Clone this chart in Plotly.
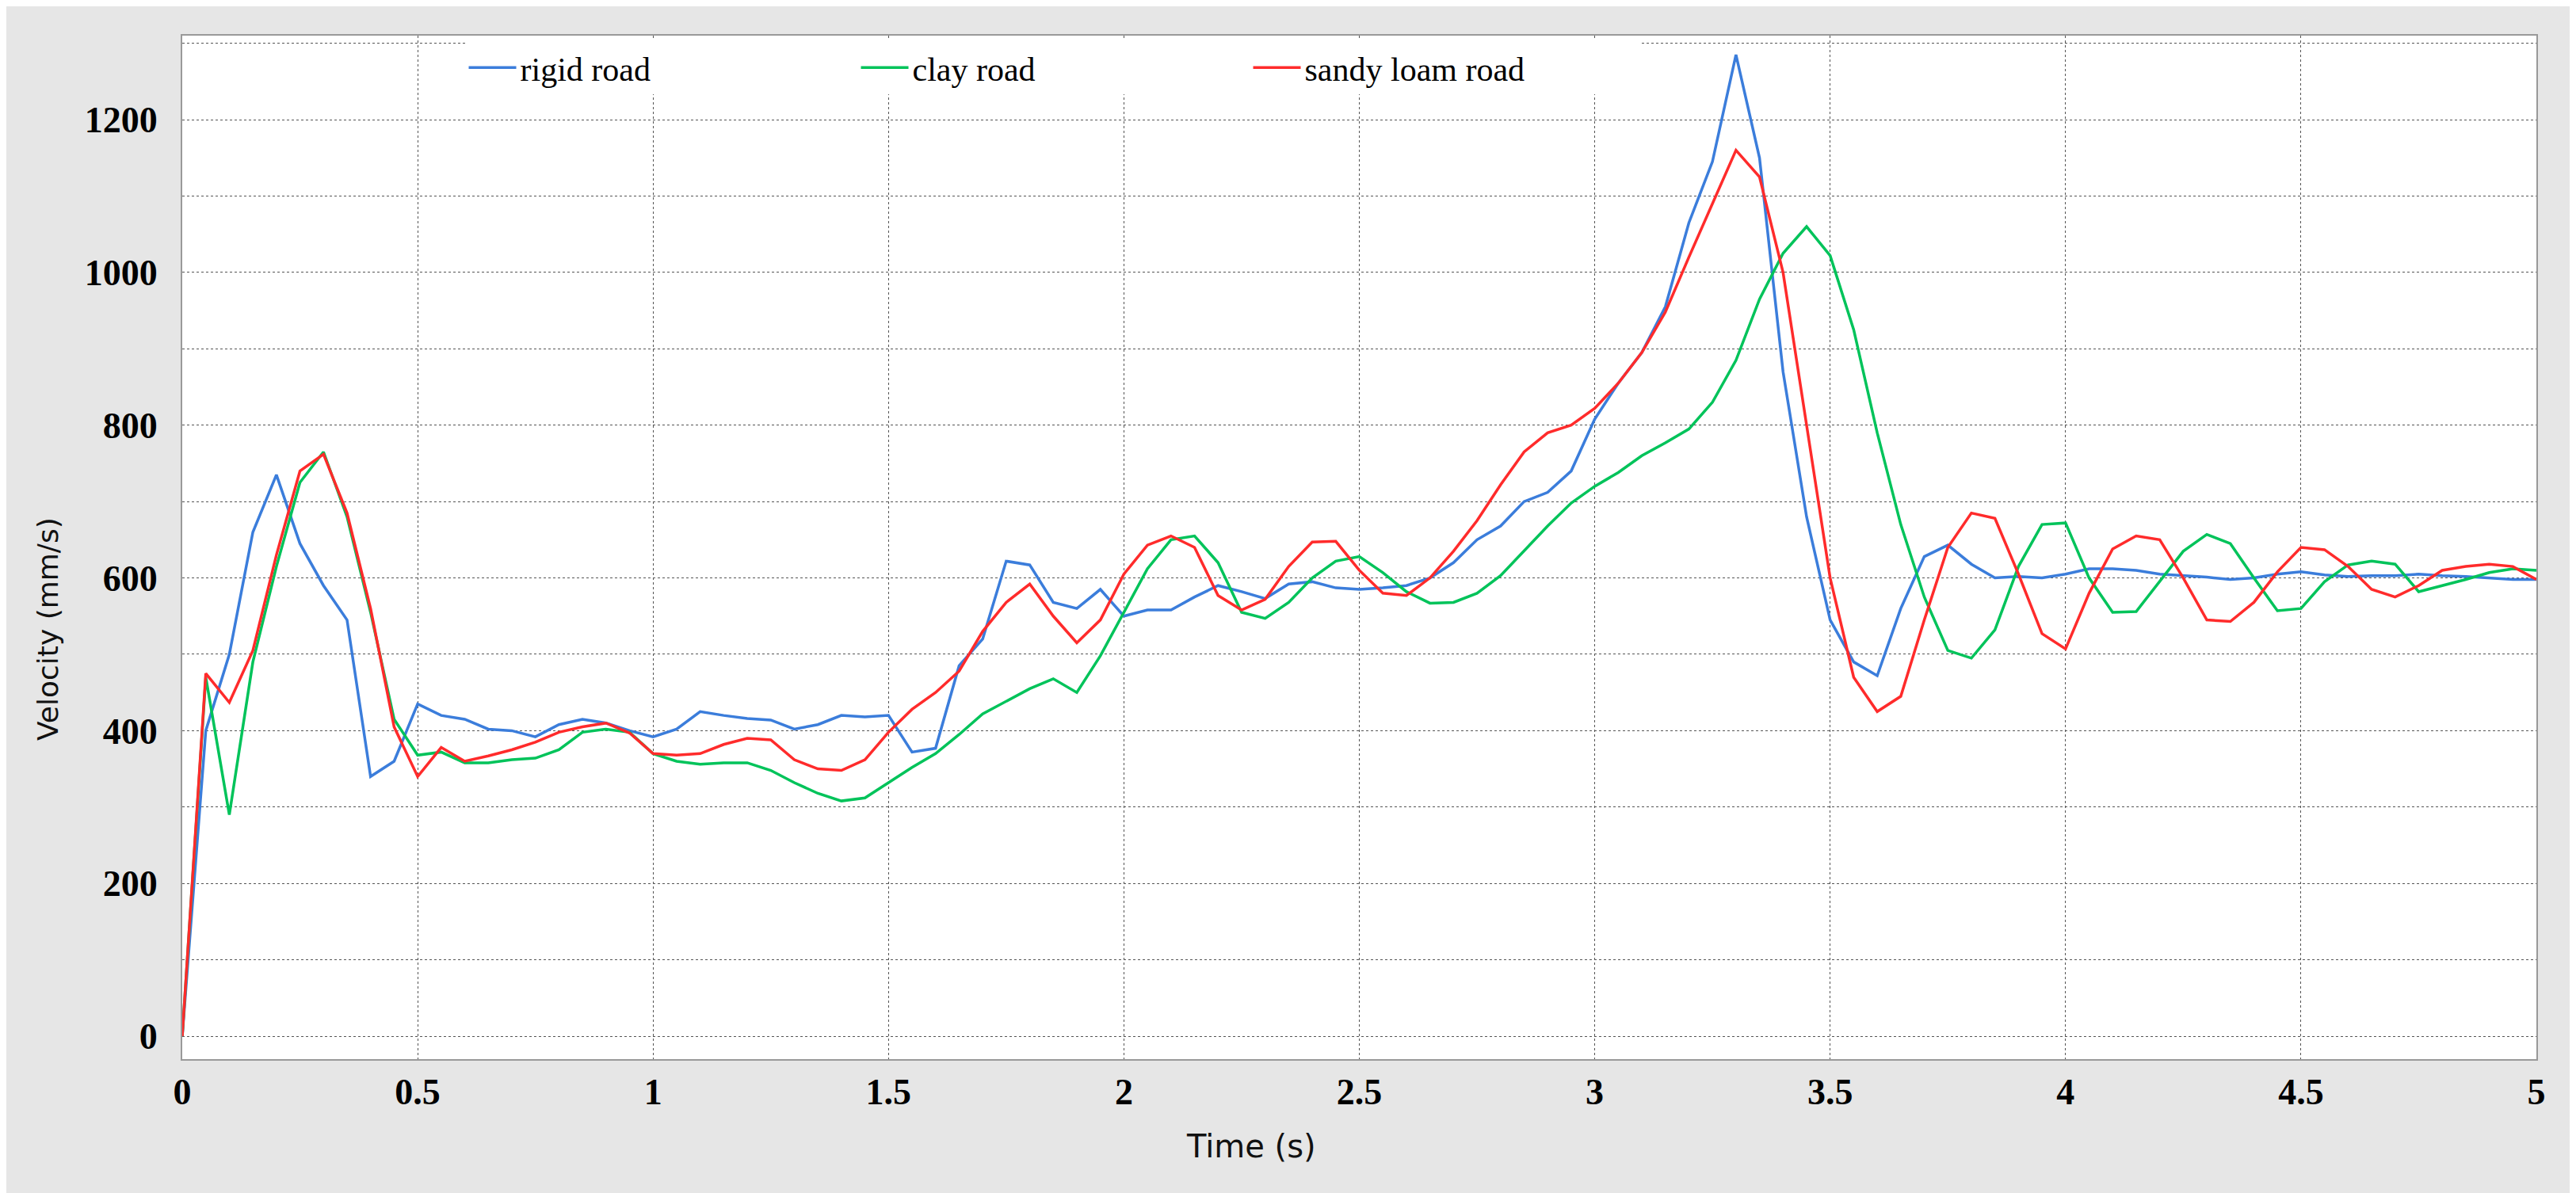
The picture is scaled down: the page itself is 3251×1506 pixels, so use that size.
import plotly.graph_objects as go

time = [round(i * 0.05, 2) for i in range(101)]

rigid = [0, 400, 500, 660, 735, 645, 590, 545, 340, 360, 435, 420, 415, 402, 400, 392, 408, 415, 410, 400,
         392, 402, 425, 420, 416, 414, 402, 408, 420, 418, 420, 372, 377, 485, 520, 622, 617, 568, 560, 585,
         550, 558, 558, 575, 590, 582, 573, 592, 595, 587, 585, 587, 590, 600, 620, 650, 668, 700, 712, 740,
         808, 855, 895, 955, 1065, 1145, 1285, 1150, 870, 680, 545, 490, 472, 560, 628, 643, 618, 600, 602, 600,
         605, 612, 612, 610, 605, 603, 601, 598, 600, 605, 608, 604, 602, 603, 603, 605, 603, 602, 600, 598, 598]
clay = [0, 470, 290, 490, 615, 725, 765, 680, 555, 415, 368, 372, 358, 358, 362, 364, 375, 398, 402, 398,
        370, 360, 356, 358, 358, 348, 332, 318, 308, 312, 332, 352, 370, 395, 422, 438, 455, 468, 450, 498,
        555, 612, 650, 655, 620, 555, 547, 568, 600, 622, 628, 607, 582, 567, 568, 580, 603, 635, 668, 698,
        720, 738, 760, 777, 795, 830, 885, 965, 1025, 1060, 1022, 925, 790, 670, 575, 505, 495, 532, 615, 670,
        672, 600, 555, 556, 595, 635, 657, 645, 600, 557, 560, 595, 617, 622, 618, 582, 590, 598, 607, 612, 610]
sandy = [0, 475, 437, 505, 630, 740, 762, 685, 560, 405, 340, 378, 360, 367, 375, 385, 398, 405, 410, 397,
         370, 368, 370, 382, 390, 388, 362, 350, 348, 362, 398, 428, 450, 478, 530, 568, 592, 550, 515, 545,
         605, 643, 655, 640, 577, 558, 572, 615, 647, 648, 610, 580, 577, 600, 635, 675, 722, 765, 790, 800,
         822, 855, 895, 948, 1020, 1090, 1160, 1125, 1000, 800, 600, 470, 425, 445, 545, 640, 685, 678, 605, 527,
         507, 580, 638, 655, 650, 600, 545, 543, 568, 608, 640, 637, 615, 585, 575, 590, 610, 615, 618, 615, 598]

series_names = ["rigid road", "clay road", "sandy loam road"]
colors = ["#3B7DDB", "#00C35A", "#FF2B2B"]

y_tickvals = list(range(0, 1301, 100))
y_ticktext = [str(v) if v % 200 == 0 and v <= 1200 else "" for v in y_tickvals]
x_tickvals = [0, 0.5, 1, 1.5, 2, 2.5, 3, 3.5, 4, 4.5, 5]
x_ticktext = ["0", "0.5", "1", "1.5", "2", "2.5", "3", "3.5", "4", "4.5", "5"]

fig = go.Figure()
for name, ys, c in zip(series_names, [rigid, clay, sandy], colors):
    fig.add_trace(go.Scatter(x=time, y=ys, mode="lines", name=name,
                             line=dict(color=c, width=3.5)))

serif = "Liberation Serif"
fig.update_layout(
    width=3251, height=1506,
    margin=dict(l=222, r=58, t=37, b=177),
    paper_bgcolor="#e6e6e6", plot_bgcolor="white",
    showlegend=True,
    legend=dict(orientation="h", x=0.12, y=0.995, xanchor="left", yanchor="top",
                bgcolor="white", font=dict(family=serif, size=42, color="black"),
                entrywidth=420, itemwidth=60),
    xaxis=dict(range=[0, 5], tickvals=x_tickvals, ticktext=x_ticktext,
               showgrid=True, gridcolor="#555", griddash="dot", gridwidth=1,
               showline=True, linecolor="#999", linewidth=2, mirror=True,
               ticks="", zeroline=False,
               tickfont=dict(family=serif, size=46, color="black", weight="bold")),
    yaxis=dict(range=[-30, 1310], tickvals=y_tickvals, ticktext=y_ticktext,
               showgrid=True, gridcolor="#555", griddash="dot", gridwidth=1,
               showline=True, linecolor="#999", linewidth=2, mirror=True,
               ticks="", zeroline=False, ticklabelstandoff=20,
               tickfont=dict(family=serif, size=46, color="black", weight="bold")),
)
fig.add_annotation(text="Velocity (mm/s)", xref="paper", yref="paper",
                   x=-0.057, y=0.42, xanchor="center", yanchor="middle",
                   textangle=-90, showarrow=False,
                   font=dict(family="DejaVu Sans", size=36, color="#111"))
fig.add_annotation(text="Time (s)", xref="paper", yref="paper",
                   x=0.454, y=-0.085, xanchor="center", yanchor="middle",
                   showarrow=False,
                   font=dict(family="DejaVu Sans", size=40, color="#111"))
fig.write_html("out.html")
